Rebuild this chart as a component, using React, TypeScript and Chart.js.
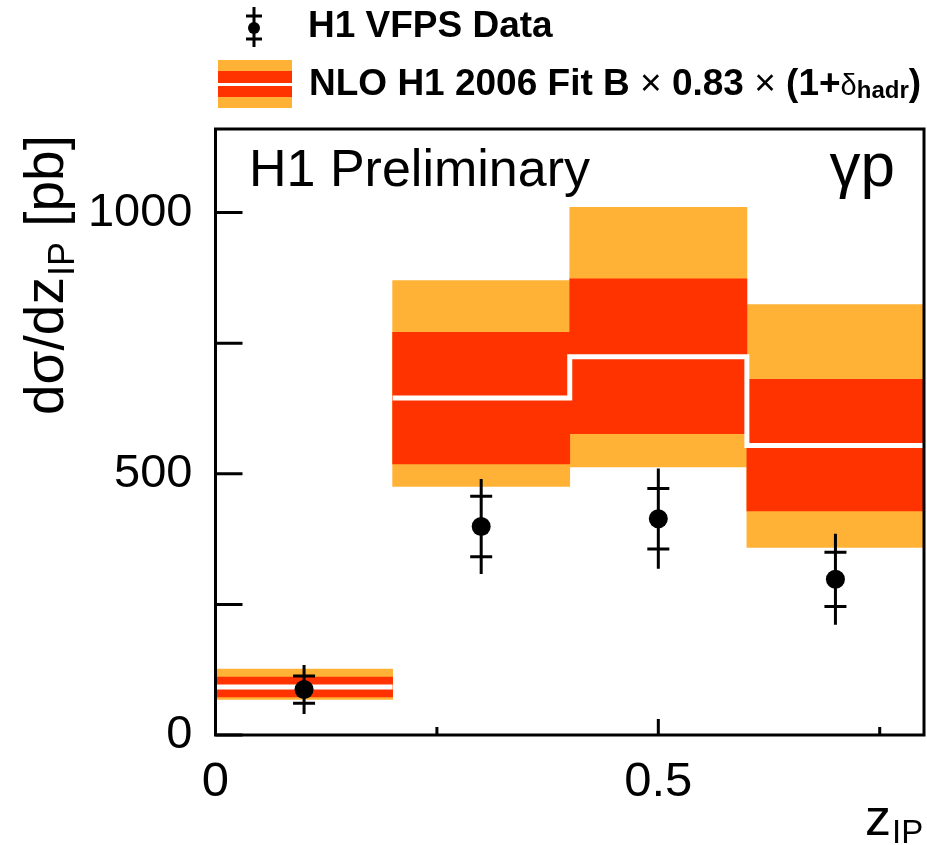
import React, { useEffect, useRef } from 'react';
import { Chart, registerables } from 'chart.js';

Chart.register(...registerables);

// ---- data ----
const binEdges = [0, 0.2, 0.4, 0.6, 0.8];
const binCenters = [0.1, 0.3, 0.5, 0.7];
const dataValues = [87, 399, 414, 298];
const statErrors = [26, 58, 58, 52];
const totalErrors = [47, 91, 96, 87];
const nloCentral = [92, 645, 724, 554];
const nloInnerLow = [73, 519, 577, 429];
const nloInnerHigh = [111, 771, 873, 681];
const nloOuterLow = [68, 476, 513, 359];
const nloOuterHigh = [126, 870, 1010, 824];
const xTickValues = [0, 0.25, 0.5, 0.75];
const xTickLabels = ['0', '', '0.5', ''];
const yTickValues = [0, 250, 500, 750, 1000];
const yTickLabels = ['0', '', '500', '', '1000'];
const dataLabel = 'H1 VFPS Data';
const nloLabelParts = ['NLO H1 2006 Fit B', '×', '0.83', '×', '(1+', 'δ', 'hadr', ')'];
const plotLabel = 'H1 Preliminary';
const processLabel = 'γp';

const FONT = '"Liberation Sans", Arial, Helvetica, sans-serif';
const ORANGE = '#FFB236';
const RED = '#FF3300';

const overlayPlugin = {
  id: 'overlay',
  afterDatasetsDraw(chart: any) {
    const { ctx } = chart;
    const x = chart.scales.x;
    const y = chart.scales.y;
    ctx.save();
    ctx.strokeStyle = '#000';
    ctx.lineWidth = 3;
    for (let i = 0; i < binCenters.length; i++) {
      const px = x.getPixelForValue(binCenters[i]);
      const v = dataValues[i];
      ctx.beginPath();
      ctx.moveTo(px, y.getPixelForValue(v - totalErrors[i]));
      ctx.lineTo(px, y.getPixelForValue(v + totalErrors[i]));
      for (const s of [1, -1]) {
        const py = y.getPixelForValue(v + s * statErrors[i]);
        ctx.moveTo(px - 11, py);
        ctx.lineTo(px + 11, py);
      }
      ctx.stroke();
    }
    ctx.restore();
  },
  afterDraw(chart: any) {
    const { ctx, chartArea: a } = chart;
    const x = chart.scales.x;
    const y = chart.scales.y;
    ctx.save();
    // frame
    ctx.strokeStyle = '#000';
    ctx.lineWidth = 3;
    ctx.strokeRect(a.left, a.top, a.right - a.left, a.bottom - a.top);
    // inward ticks
    ctx.beginPath();
    yTickValues.forEach((v) => {
      const py = y.getPixelForValue(v);
      ctx.moveTo(a.left, py);
      ctx.lineTo(a.left + 27, py);
    });
    xTickValues.forEach((v, i) => {
      const px = x.getPixelForValue(v);
      ctx.moveTo(px, a.bottom);
      ctx.lineTo(px, a.bottom - (xTickLabels[i] ? 16 : 8));
    });
    ctx.stroke();

    ctx.fillStyle = '#000';
    ctx.textBaseline = 'alphabetic';
    // in-plot labels
    ctx.font = `52px ${FONT}`;
    ctx.textAlign = 'left';
    ctx.fillText(plotLabel, 249, 186);
    ctx.font = `62px ${FONT}`;
    ctx.textAlign = 'right';
    ctx.fillText(processLabel, 895, 186);

    // x axis title
    ctx.textAlign = 'left';
    ctx.font = `52px ${FONT}`;
    ctx.fillText('z', 865, 835);
    const zw = ctx.measureText('z').width;
    ctx.font = `33px ${FONT}`;
    ctx.fillText('IP', 865 + zw + 1, 843);

    // y axis title (rotated)
    ctx.save();
    ctx.translate(63, 415);
    ctx.rotate(-Math.PI / 2);
    let cx = 0;
    ctx.font = `55px ${FONT}`;
    ctx.fillText('dσ/dz', cx, 0);
    cx += ctx.measureText('dσ/dz').width;
    ctx.font = `36px ${FONT}`;
    ctx.fillText('IP', cx + 1, 11);
    cx += ctx.measureText('IP').width + 1;
    ctx.font = `55px ${FONT}`;
    ctx.fillText(' [pb]', cx, 0);
    ctx.restore();

    // legend: data marker
    ctx.lineWidth = 3;
    ctx.beginPath();
    ctx.moveTo(254, 7);
    ctx.lineTo(254, 47);
    ctx.moveTo(246, 16);
    ctx.lineTo(262, 16);
    ctx.moveTo(246, 39);
    ctx.lineTo(262, 39);
    ctx.stroke();
    ctx.beginPath();
    ctx.arc(254, 28, 6, 0, Math.PI * 2);
    ctx.fill();
    // legend: band
    ctx.fillStyle = ORANGE;
    ctx.fillRect(218, 60, 74, 48);
    ctx.fillStyle = RED;
    ctx.fillRect(218, 71, 74, 26);
    ctx.strokeStyle = '#fff';
    ctx.lineWidth = 3;
    ctx.beginPath();
    ctx.moveTo(218, 84.5);
    ctx.lineTo(292, 84.5);
    ctx.stroke();

    // legend texts
    ctx.fillStyle = '#000';
    ctx.textAlign = 'left';
    ctx.font = `bold 37px ${FONT}`;
    ctx.fillText(dataLabel, 308, 37);

    const bold = `bold 37px ${FONT}`;
    const reg = `37px ${FONT}`;
    const segs = [
      { t: nloLabelParts[0] + ' ', f: bold, dy: 0 },
      { t: nloLabelParts[1] + ' ', f: reg, dy: 0 },
      { t: nloLabelParts[2] + ' ', f: bold, dy: 0 },
      { t: nloLabelParts[3] + ' ', f: reg, dy: 0 },
      { t: nloLabelParts[4], f: bold, dy: 0 },
      { t: nloLabelParts[5], f: `29px ${FONT}`, dy: 0 },
      { t: nloLabelParts[6], f: `bold 24px ${FONT}`, dy: 3 },
      { t: nloLabelParts[7], f: bold, dy: 0 },
    ];
    let lx = 309;
    for (const s of segs) {
      ctx.font = s.f;
      ctx.fillText(s.t, lx, 95 + s.dy);
      lx += ctx.measureText(s.t).width;
    }
    ctx.restore();
  },
};

export default function App() {
  const canvasRef = useRef<HTMLCanvasElement | null>(null);

  useEffect(() => {
    const canvas = canvasRef.current;
    if (!canvas) return;

    const centralMain: { x: number; y: number }[] = [];
    for (let i = 1; i < nloCentral.length; i++) {
      centralMain.push({ x: binEdges[i], y: nloCentral[i] });
    }
    centralMain.push({ x: binEdges[binEdges.length - 1], y: nloCentral[nloCentral.length - 1] });

    const chart = new Chart(canvas, {
      type: 'bar',
      data: {
        datasets: [
          {
            type: 'scatter',
            label: dataLabel,
            data: binCenters.map((c, i) => ({ x: c, y: dataValues[i] })),
            pointRadius: 9.5,
            pointBackgroundColor: '#000',
            pointBorderWidth: 0,
            order: 0,
          } as any,
          {
            type: 'line',
            label: 'NLO central bin 1',
            data: [
              { x: binEdges[0], y: nloCentral[0] },
              { x: binEdges[1], y: nloCentral[0] },
            ],
            borderColor: '#fff',
            borderWidth: 5,
            pointRadius: 0,
            fill: false,
            order: 1,
          } as any,
          {
            type: 'line',
            label: 'NLO central',
            data: centralMain,
            borderColor: '#fff',
            borderWidth: 5,
            pointRadius: 0,
            stepped: true,
            fill: false,
            order: 1,
          } as any,
          {
            type: 'bar',
            label: 'NLO inner',
            data: binCenters.map((c, i) => ({ x: c, y: [nloInnerLow[i], nloInnerHigh[i]] })),
            backgroundColor: RED,
            borderWidth: 0,
            barPercentage: 1,
            categoryPercentage: 1,
            grouped: false,
            order: 2,
          } as any,
          {
            type: 'bar',
            label: 'NLO outer',
            data: binCenters.map((c, i) => ({ x: c, y: [nloOuterLow[i], nloOuterHigh[i]] })),
            backgroundColor: ORANGE,
            borderWidth: 0,
            barPercentage: 1,
            categoryPercentage: 1,
            grouped: false,
            order: 3,
          } as any,
        ],
      },
      options: {
        responsive: false,
        animation: false,
        devicePixelRatio: 1,
        events: [],
        layout: { autoPadding: false, padding: { top: 129, right: 3, left: 0, bottom: 0 } },
        plugins: { legend: { display: false }, tooltip: { enabled: false } },
        scales: {
          x: {
            type: 'linear',
            min: 0,
            max: 0.8,
            offset: false,
            grid: { display: false },
            border: { display: false },
            afterBuildTicks: (s: any) => {
              s.ticks = xTickValues.map((v) => ({ value: v }));
            },
            afterFit: (s: any) => {
              s.height = 110;
              s.paddingLeft = 0;
              s.paddingRight = 0;
            },
            ticks: {
              callback: (_v: any, i: number) => xTickLabels[i],
              font: { family: FONT, size: 49 },
              color: '#000',
              padding: 10,
              maxRotation: 0,
              autoSkip: false,
            },
          },
          y: {
            type: 'linear',
            min: 0,
            max: 1160,
            grid: { display: false },
            border: { display: false },
            afterBuildTicks: (s: any) => {
              s.ticks = yTickValues.map((v) => ({ value: v }));
            },
            afterFit: (s: any) => {
              s.width = 215.5;
              s.paddingTop = 0;
              s.paddingBottom = 0;
            },
            ticks: {
              callback: (_v: any, i: number) => yTickLabels[i],
              font: { family: FONT, size: 47 },
              color: '#000',
              padding: 15,
              autoSkip: false,
            },
          },
        },
      } as any,
      plugins: [overlayPlugin],
    });

    return () => {
      chart.destroy();
    };
  }, []);

  return (
    <div style={{ position: 'absolute', left: 0, top: 0, width: 927, height: 845, background: '#fff' }}>
      <canvas ref={canvasRef} width={927} height={845} style={{ display: 'block' }} />
    </div>
  );
}
